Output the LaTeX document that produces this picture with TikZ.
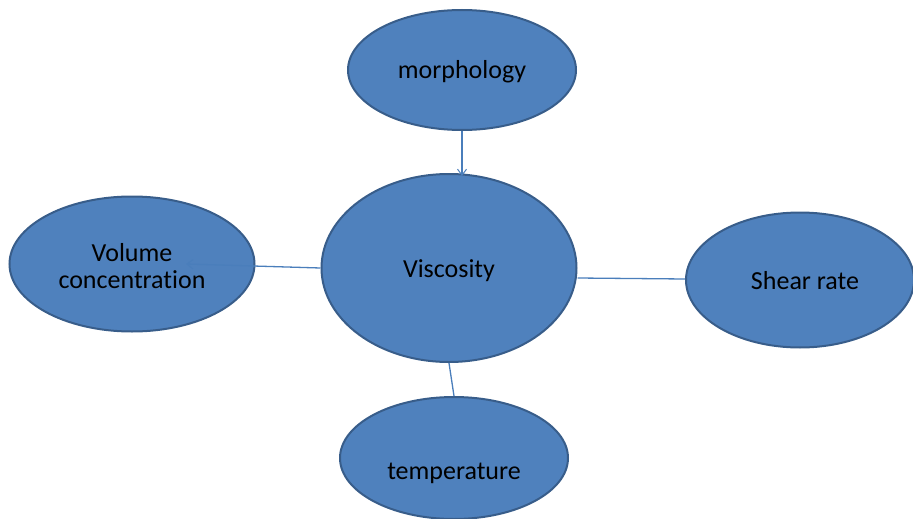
\documentclass[tikz,border=0pt]{standalone}
\usepackage{fontspec}
\setmainfont{Carlito}[Ligatures={NoCommon}]
\usetikzlibrary{shapes.geometric,arrows.meta}
\definecolor{efill}{HTML}{4F81BD}
\definecolor{edraw}{HTML}{385D8A}
\definecolor{conn}{HTML}{4A7EBB}
\begin{document}
\begin{tikzpicture}[x=1pt,y=-1pt,
  bubble/.style={ellipse,fill=efill,draw=edraw,line width=2pt,inner sep=0pt,
    font=\fontsize{26}{27}\selectfont,align=center},
  txt/.style={font=\fontsize{26}{27}\selectfont,align=center},
  link/.style={draw=conn,line width=1.3pt},
  arr/.style={link,-{Straight Barb[length=6pt,width=9pt,line width=1pt]}}]
\clip (0,0) rectangle (913,519);
\node[bubble,minimum width=228pt,minimum height=120pt] (morph) at (462,70) {};
\node[txt] (morphtext) at (462,72) {morphology};
\node[bubble,minimum width=255pt,minimum height=188pt] (visc) at (449,268) {};
\node[txt] (visctext) at (449,271) {Viscosity};
\node[bubble,minimum width=245pt,minimum height=135pt] (vol) at (132,264) {};
\node[txt] (voltext) at (132,266) {Volume\\concentrat\kern0pt ion};
\node[bubble,minimum width=228pt,minimum height=135pt] (shear) at (800,280) {};
\node[txt] (sheartext) at (805,281) {Shear rate};
\node[bubble,minimum width=228pt,minimum height=122pt] (temp) at (454,458) {};
\node[txt] (temptext) at (454,473) {temperature};
\coordinate (viscin) at (462,176);
\coordinate (volend) at (186,264);
\draw[arr] (morph.south) -- (viscin);
\draw[arr] (visc.west) -- (volend);
\draw[link] (visc.east |- 0,278) -- (shear.west |- 0,279);
\draw[link] (visc.south) -- (temp.north);
\end{tikzpicture}
\end{document}
